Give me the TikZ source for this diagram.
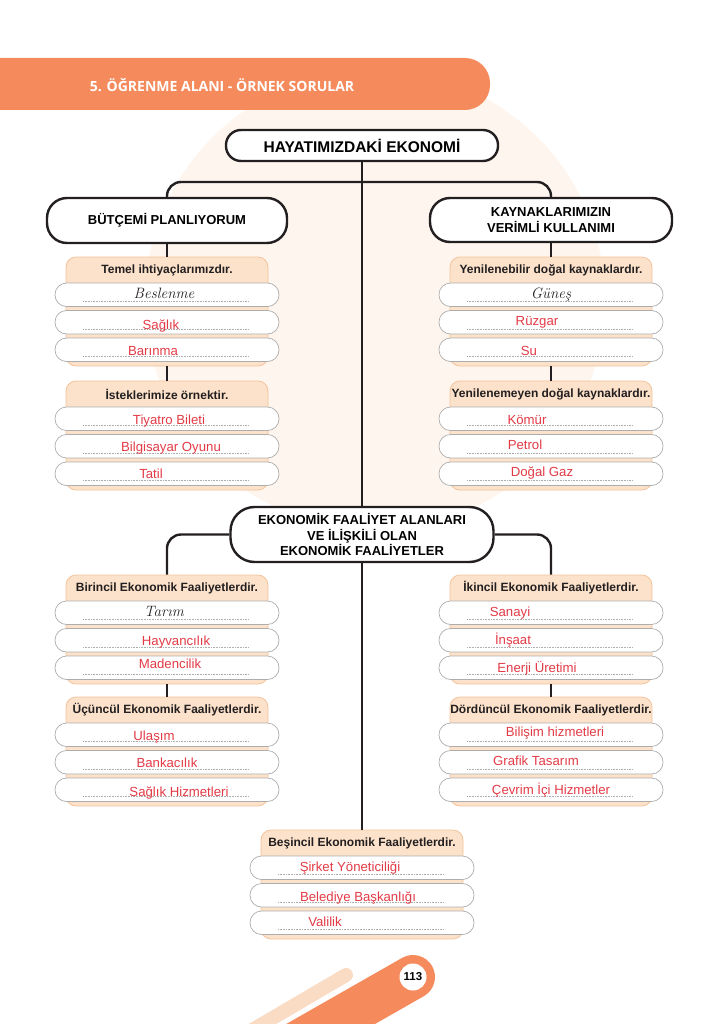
\documentclass[tikz,border=0pt]{standalone}
\usepackage{fontspec}
\newfontfamily\arial{Liberation Sans}
\newfontfamily\opensans{Open Sans}
\definecolor{hdr}{HTML}{F58B5C}
\definecolor{peach}{HTML}{FCE2CA}
\definecolor{peachdk}{HTML}{F3C49C}
\definecolor{peachlt}{HTML}{FADCC4}
\definecolor{bgtint}{HTML}{FEF5EE}
\definecolor{ink}{HTML}{E33B46}
\definecolor{rowline}{HTML}{ADADAD}
\definecolor{conline}{HTML}{231F20}

\begin{document}
\begin{tikzpicture}[x=1pt, y=-1pt, font=\arial,
  main/.style={draw=conline, fill=white, line width=2.4pt, align=center, inner sep=0pt,
    font=\arial\bfseries\fontsize{13}{15.5}\selectfont},
  box/.style={draw=peachdk, fill=peach, line width=0.8pt, rounded corners=10pt,
    minimum width=202pt, minimum height=109pt, inner sep=0pt},
  ghead/.style={font=\arial\bfseries\fontsize{12}{12}\selectfont, text=conline},
  row/.style={draw=rowline, fill=white, line width=0.7pt, rounded corners=11.5pt,
    minimum width=224pt, minimum height=23.5pt, inner sep=0pt},
  dots/.style={densely dotted, rowline, line width=0.6pt},
  ans/.style={anchor=base, text=ink, inner sep=0pt, font=\arial\fontsize{13.2}{13.2}\selectfont},
  hand/.style={ans, text=conline, font=\rmfamily\itshape\fontsize{15}{15}\selectfont},
  conn/.style={conline, line width=2.4pt}]

\useasboundingbox (0,0) rectangle (724,1024);

% page decoration
\begin{scope}
  \clip (0,0) rectangle (724,1024);
  \fill[bgtint] (375,300) circle[radius=230];
  \fill[hdr, rounded corners=25pt] (-40,58) rectangle (490,110);
  \draw[peachlt, line width=14pt, line cap=round] (346,975) -- (230,1043);
  \draw[hdr, line width=44pt, line cap=round] (413,977) -- (285,1050);
\end{scope}
\node[font=\opensans\bfseries\fontsize{14}{14}\selectfont, text=white] (title) at (222,85)
  {5. ÖĞRENME ALANI - ÖRNEK SORULAR};
\node[circle, fill=white, minimum size=27pt, inner sep=0pt,
  font=\arial\bfseries\fontsize{11.5}{11.5}\selectfont] (page) at (413,977) {113};

% main nodes
\node[main, rounded corners=15pt, minimum width=272pt, minimum height=31pt,
  font=\arial\bfseries\fontsize{15.5}{15.5}\selectfont] (top) at (362,145.5) {HAYATIMIZDAKİ EKONOMİ};
\node[main, rounded corners=20pt, minimum width=240pt, minimum height=45pt] (budget) at (167,220.5)
  {BÜTÇEMİ PLANLIYORUM};
\node[main, rounded corners=20pt, minimum width=242pt, minimum height=44pt] (res) at (551,220)
  {KAYNAKLARIMIZIN\\[1pt]VERİMLİ KULLANIMI};
\node[main, rounded corners=24pt, minimum width=263pt, minimum height=55pt] (act) at (362,534.5)
  {EKONOMİK FAALİYET ALANLARI\\VE İLİŞKİLİ OLAN\\EKONOMİK FAALİYETLER};

% groups with three rows each
\foreach \g/\cx/\T/\h in {temel/167/257/Temel ihtiyaçlarımızdır.,
    istek/167/381/İsteklerimize örnektir.,
    yenil/551/257/Yenilenebilir doğal kaynaklardır.,
    yenilmez/551/381/Yenilenemeyen doğal kaynaklardır.,
    birincil/167/575/Birincil Ekonomik Faaliyetlerdir.,
    ucuncul/167/697/Üçüncül Ekonomik Faaliyetlerdir.,
    ikincil/551/575/İkincil Ekonomik Faaliyetlerdir.,
    dorduncul/551/697/Dördüncül Ekonomik Faaliyetlerdir.,
    besincil/362/830/Beşincil Ekonomik Faaliyetlerdir.}{
  \node[box] (\g) at (\cx,\T+54.5) {};
  \node[ghead] (\g-h) at (\cx,\T+13) {\h};
  \foreach \k/\dy in {1/26,2/53.5,3/81}{
    \node[row] (\g-\k) at (\cx,\T+\dy+11.75) {};
    \draw[dots] (\cx-84,\T+\dy+18.5) -- (\cx+82,\T+\dy+18.5);
  }
}

% answers
\foreach \x/\y/\s/\t [count=\n] in {
    164/298/hand/Beslenme, 161/329.5/ans/Sağlık, 153/355/ans/Barınma,
    169/424/ans/Tiyatro Bileti, 171/451.5/ans/Bilgisayar Oyunu, 151/478/ans/Tatil,
    551/298/hand/Güneş, 537/325/ans/Rüzgar, 529/355/ans/Su,
    527/424/ans/Kömür, 525/449/ans/Petrol, 542/476.5/ans/Doğal Gaz,
    164/616.5/hand/Tarım, 176/645.5/ans/Hayvancılık, 170/668/ans/Madencilik,
    154/740/ans/Ulaşım, 167/767.5/ans/Bankacılık, 179/796/ans/Sağlık Hizmetleri,
    510/616.5/ans/Sanayi, 513/644/ans/İnşaat, 537/672/ans/Enerji Üretimi,
    555/736.5/ans/Bilişim hizmetleri, 536/765.5/ans/Grafik Tasarım,
    551/794/ans/Çevrim İçi Hizmetler,
    350/871.5/ans/Şirket Yöneticiliği, 358/901.5/ans/Belediye Başkanlığı,
    325/926/ans/Valilik}
  \node[\s] (a\n) at (\x,\y) {\t};

% connectors
\coordinate (fork) at (362,182);
\draw[conn] (top) -- (act);
\draw[conn, rounded corners=14pt] (budget.north) |- (fork) -| (res.north);
\draw[conn] (budget) -- (temel);
\draw[conn] (temel) -- (istek);
\draw[conn] (res) -- (yenil);
\draw[conn] (yenil) -- (yenilmez);
\draw[conn, rounded corners=14pt] (act.west) -| (birincil.north);
\draw[conn, rounded corners=14pt] (act.east) -| (ikincil.north);
\draw[conn] (birincil) -- (ucuncul);
\draw[conn] (ikincil) -- (dorduncul);
\draw[conn] (act) -- (besincil);
\end{tikzpicture}
\end{document}
